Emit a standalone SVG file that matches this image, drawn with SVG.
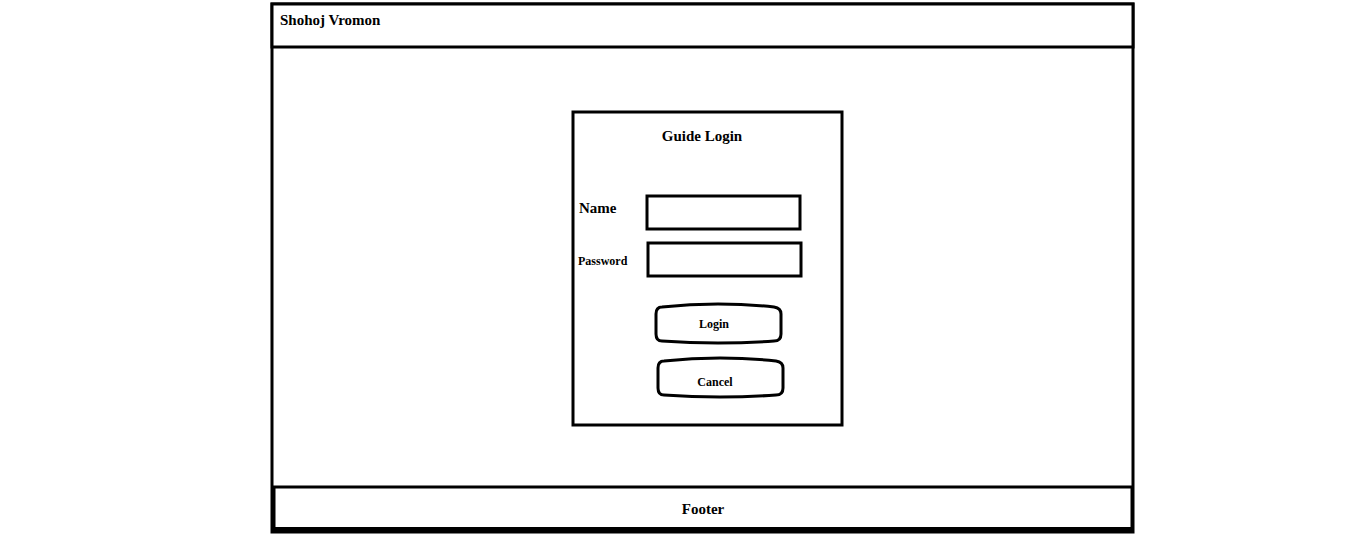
<svg xmlns="http://www.w3.org/2000/svg" width="1356" height="549" viewBox="0 0 1356 549">
<style>
.b{fill:#fff;stroke:#000;stroke-width:3}
.t{font-family:"Liberation Serif",serif;font-weight:bold;fill:#000}
</style>
<rect width="1356" height="549" fill="#fff"/>
<g id="frame"><rect class="b" x="272" y="4" width="861" height="528"/></g>
<g id="header"><rect class="b" x="272" y="4" width="861" height="43"/><text class="t" x="280" y="25" font-size="15">Shohoj Vromon</text></g>
<g id="footer"><rect class="b" x="274" y="487" width="858" height="43"/><rect x="272" y="527" width="862" height="6" fill="#000"/><text class="t" x="703" y="514" font-size="15" text-anchor="middle">Footer</text></g>
<g id="loginbox"><rect class="b" x="573" y="112" width="269" height="313"/><text class="t" x="702" y="141" font-size="15" text-anchor="middle">Guide Login</text></g>
<g id="name"><text class="t" x="579" y="213" font-size="15">Name</text><rect class="b" x="647" y="196" width="153" height="33"/></g>
<g id="password"><text class="t" x="578" y="265" font-size="12">Password</text><rect class="b" x="648" y="243" width="153" height="33"/></g>
<g id="login"><path class="b" d="M662,307 Q718,301 774,307 Q781,308 781,314 L781,334 Q781,341 774,341 Q718,345 662,341 Q656,341 656,334 L656,314 Q656,307 662,307 Z"/><text class="t" x="714" y="328" font-size="12" text-anchor="middle">Login</text></g>
<g id="cancel"><path class="b" d="M664,361 Q720,355 776,361 Q783,362 783,368 L783,388 Q783,395 776,395 Q720,399 664,395 Q658,395 658,388 L658,368 Q658,361 664,361 Z"/><text class="t" x="715" y="386" font-size="12" text-anchor="middle">Cancel</text></g>
<g id="connectors"/>
</svg>
